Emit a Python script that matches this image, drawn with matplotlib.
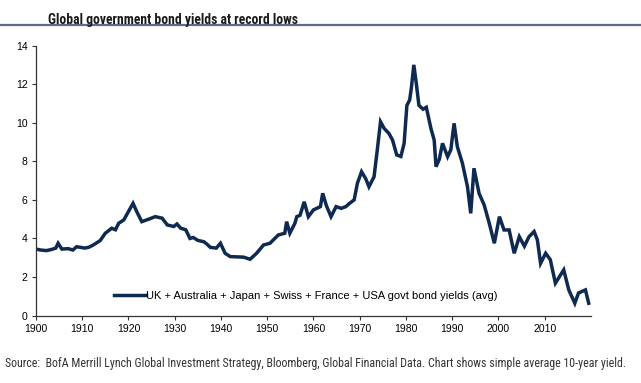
import numpy as np
import matplotlib.pyplot as plt

plt.rcParams['font.family'] = ['Liberation Sans', 'DejaVu Sans']

# average 10-year govt bond yield (%)
years = [1900.0, 1901.0, 1902.3, 1903.4, 1904.3, 1904.8, 1905.6, 1907.0, 1908.0, 1908.8,
         1910.6, 1911.5, 1912.4, 1913.9, 1915.0, 1916.4, 1917.2, 1917.9, 1919.0, 1920.0,
         1921.0, 1921.8, 1922.9, 1924.4, 1925.8, 1927.3, 1928.4, 1929.8, 1930.5, 1931.3,
         1932.4, 1933.3, 1934.0, 1935.0, 1936.3, 1937.0, 1937.7, 1939.0, 1939.9, 1940.9,
         1942.0, 1944.9, 1946.3, 1947.7, 1949.2, 1950.6, 1952.4, 1953.8, 1954.2, 1954.9,
         1956.0, 1956.4, 1957.1, 1958.0, 1958.9, 1960.0, 1961.5, 1962.0, 1962.8, 1963.8,
         1964.9, 1966.0, 1967.0, 1967.7, 1968.8, 1969.5, 1970.4, 1971.3, 1972.0, 1973.1,
         1973.8, 1974.5, 1975.3, 1976.3, 1977.1, 1978.0, 1978.9, 1979.6, 1980.2, 1980.8,
         1981.2, 1981.7, 1982.2, 1982.8, 1983.7, 1984.4, 1985.4, 1986.1, 1986.5, 1987.2,
         1987.9, 1989.0, 1989.7, 1990.4, 1991.1, 1992.2, 1993.3, 1994.0, 1994.7, 1995.8,
         1996.9, 1998.0, 1999.1, 2000.2, 2001.2, 2002.3, 2003.4, 2004.5, 2005.6, 2006.6,
         2007.7, 2008.4, 2009.1, 2010.2, 2011.2, 2012.3, 2014.1, 2015.2, 2016.5, 2017.3,
         2018.8, 2019.5]
yields = [3.45, 3.40, 3.37, 3.43, 3.50, 3.75, 3.45, 3.47, 3.40, 3.57,
          3.50, 3.55, 3.66, 3.89, 4.27, 4.53, 4.45, 4.79, 4.96, 5.39,
          5.82, 5.39, 4.87, 5.00, 5.13, 5.05, 4.70, 4.62, 4.75, 4.53,
          4.45, 4.00, 4.05, 3.90, 3.83, 3.70, 3.54, 3.50, 3.75, 3.23,
          3.06, 3.03, 2.92, 3.23, 3.66, 3.75, 4.18, 4.27, 4.87, 4.27,
          4.79, 5.13, 5.20, 5.90, 5.13, 5.48, 5.65, 6.34, 5.70, 5.13,
          5.65, 5.56, 5.65, 5.80, 6.00, 6.86, 7.46, 7.10, 6.68, 7.20,
          8.59, 10.05, 9.70, 9.45, 9.10, 8.33, 8.25, 8.93, 10.90, 11.18,
          11.87, 13.00, 12.10, 10.90, 10.70, 10.80, 9.70, 9.10, 7.72, 8.10,
          8.93, 8.24, 8.60, 9.97, 8.76, 7.90, 6.68, 5.30, 7.64, 6.34,
          5.74, 4.79, 3.75, 5.13, 4.44, 4.44, 3.23, 4.09, 3.60, 4.09,
          4.36, 3.93, 2.71, 3.23, 2.90, 1.68, 2.37, 1.33, 0.64, 1.17,
          1.33, 0.64]

x_ticks = list(range(1900, 2011, 10))
y_ticks = list(range(0, 15, 2))

navy = '#0f2a50'
narrow = ['Roboto Condensed', 'Liberation Sans Narrow', 'Roboto', 'DejaVu Sans']

fig = plt.figure(figsize=(6.41, 3.83), dpi=100)
ax = fig.add_axes([0.056, 0.176, 0.866, 0.705])

ax.plot(years, yields, color=navy, lw=2.5, solid_joinstyle='miter',
        label='UK + Australia + Japan + Swiss + France + USA govt bond yields (avg)')

ax.set_xlim(1900, 2020)
ax.set_ylim(0, 14)
ax.set_xticks(x_ticks)
ax.set_yticks(y_ticks)
for s in ['top', 'right']:
    ax.spines[s].set_visible(False)
for s in ['left', 'bottom']:
    ax.spines[s].set_color('#333333')
    ax.spines[s].set_linewidth(0.9)
ax.tick_params(length=3, width=0.8, color='#333333', labelsize=7.5, pad=3)

ax.legend(loc='center left', bbox_to_anchor=(0.14, 0.073), frameon=False,
          borderaxespad=0, borderpad=0, handlelength=2.9, handletextpad=0,
          prop={'size': 8})

# title with rule beneath
fig.text(0.075, 0.947, 'Global government bond yields at record lows',
         family=narrow, fontsize=9.8, fontweight='bold', color='#1a1a1a',
         va='center', ha='left')
fig.add_artist(plt.Line2D([0, 1], [0.935, 0.935], color='#5b6f8c', lw=1.6,
                          transform=fig.transFigure))

fig.text(0.008, 0.052,
         'Source:  BofA Merrill Lynch Global Investment Strategy, Bloomberg, Global Financial Data. '
         'Chart shows simple average 10-year yield.',
         family=narrow, fontsize=8.6, color='#333333', va='center', ha='left')

fig.savefig('out.png', dpi=100)
